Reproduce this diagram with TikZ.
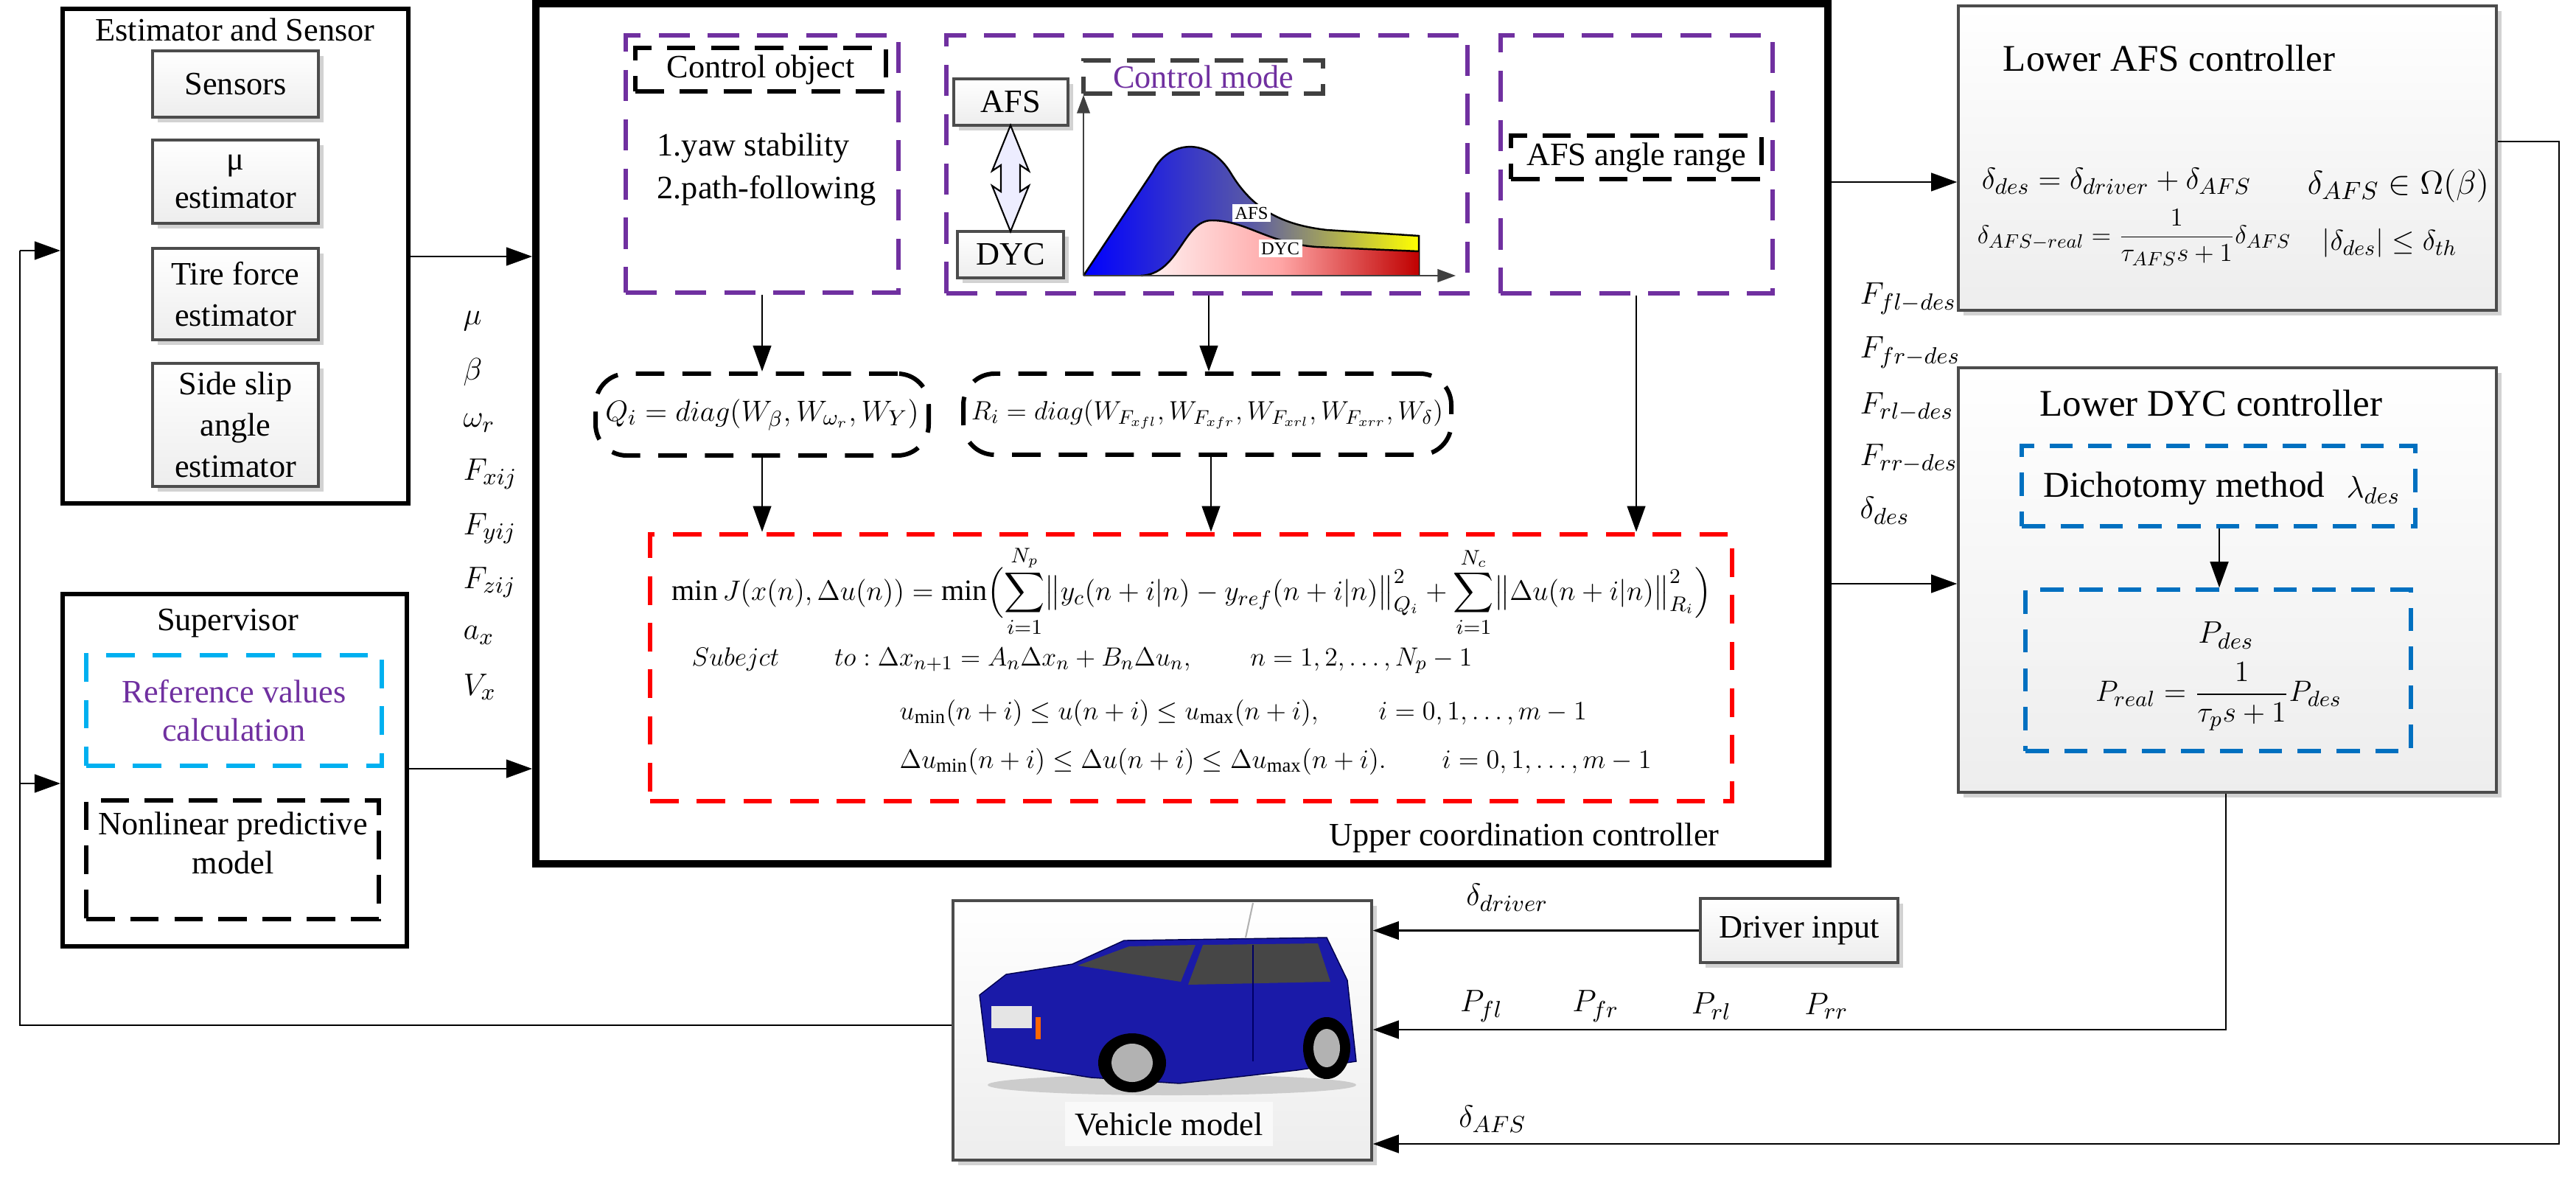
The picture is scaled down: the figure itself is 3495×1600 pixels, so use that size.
\documentclass[tikz,border=0pt]{standalone}
\usepackage{fontspec}
\usepackage{amsmath,graphicx}
\setmainfont{Liberation Serif}
\usetikzlibrary{fit,arrows.meta,shadows,calc}
\definecolor{pur}{HTML}{7030A0}
\definecolor{cyn}{HTML}{00B0F0}
\definecolor{bl}{HTML}{0070C0}
\definecolor{carblue}{HTML}{1A1AA8}
\begin{document}
\begin{tikzpicture}[x=0.01cm,y=-0.01cm,
  font=\fontsize{12.6}{15}\selectfont,
  every node/.style={inner sep=0pt},
  frame/.style={draw,line width=1.7pt,fit={#1},inner sep=0pt},
  gbox/.style={draw=gray!60!black,line width=1pt,top color=white,bottom color=gray!14,
     drop shadow={shadow xshift=2pt,shadow yshift=-2pt,fill=gray!35,opacity=1},fit={#1},inner sep=0pt},
  pbox/.style={draw=pur,line width=1.7pt,dash pattern=on 12pt off 7pt,fit={#1},inner sep=0pt},
  kbox/.style={draw=black,line width=1.7pt,dash pattern=on 11pt off 6pt,fit={#1},inner sep=0pt},
  rbox/.style={draw,line width=1.7pt,dash pattern=on 11pt off 7pt,rounded corners=12pt,fit={#1},inner sep=0pt},
  arr/.style={line width=0.8pt,-{Triangle[length=10pt,width=7pt]}},
  ln/.style={line width=0.8pt},
  lbl/.style={anchor=west}]
\useasboundingbox (0,0) rectangle (3495,1600);
\fill[white] (0,0) rectangle (3495,1600);
\coordinate (xa) at (1640,0);
\coordinate (xb) at (1643,0);
\coordinate (xc) at (2220,0);
\coordinate (xd) at (3011,0);
\coordinate (xe) at (3020,0);
\coordinate (ya) at (0,247);
\coordinate (yb) at (0,792);
\coordinate (yc) at (0,348);
\coordinate (yd) at (0,1043);

% ---------- Estimator and sensor
\node[frame={(85,12)(554,683)}] (est) {};
\node (estt) at (319,40) {Estimator and Sensor};
\node[gbox={(207,69)(432,159)}] (sens) {};
\node at (sens.center) {Sensors};
\node[gbox={(207,190)(432,303)}] (mu) {};
\node[align=center] at (mu.center) {μ\\estimator};
\node[gbox={(207,337)(432,461)}] (tire) {};
\node[align=center,font=\fontsize{12.6}{16}\selectfont] at (tire.center) {Tire force\\estimator};
\node[gbox={(207,493)(432,660)}] (side) {};
\node[align=center,font=\fontsize{12.6}{16}\selectfont] at (side.center) {Side slip\\angle\\estimator};

% ---------- Supervisor
\node[frame={(85,806)(552,1284)}] (sup) {};
\node (supt) at (309,846) {Supervisor};
\node[draw=cyn,line width=1.7pt,dash pattern=on 11pt off 7pt,fit={(117,889)(518,1039)}] (ref) {};
\node[align=center,text=pur] at (ref.center) {Reference values\\calculation};
\node[kbox={(117,1086)(514,1247)}] (nl) {};
\node[align=center] at (316,1144) {Nonlinear predictive\\model};

% ---------- Upper coordination controller
\node[draw,line width=2.8pt,fit={(727,5)(2480,1172)}] (up) {};
\node (upt) at (2068,1137) {Upper coordination controller};

% control object
\node[pbox={(849,48)(1219,397)}] (co) {};
\node[kbox={(862,65)(1202,124)}] (col) {};
\node at (col.center) {Control object};
\node[align=left,anchor=north west,font=\fontsize{12.6}{16.5}\selectfont] at (891,180) {1.yaw stability\\2.path-following};

% control mode
\node[pbox={(1284,48)(1991,398)}] (cm) {};
\node[gbox={(1294,107)(1449,170)}] (afs) {};
\node at (afs.center) {AFS};
\node[gbox={(1299,314)(1443,377)}] (dyc) {};
\node at (dyc.center) {DYC};
\draw[line width=0.6pt,fill=blue!7] (1371,170)--(1396,232)--(1384,224)--(1384,260)--(1396,252)--(1371,314)--(1346,252)--(1358,260)--(1358,224)--(1346,232)--cycle;
\node[draw=black!75,line width=1.7pt,dash pattern=on 11pt off 6pt,fit={(1470,82)(1795,127)}] (cml) {};
\node[text=pur] at (cml.center) {Control mode};
\shade[left color=blue,right color=yellow,middle color=gray!70!blue]
  (1470,374) -- (1564,233) .. controls (1585,190) and (1640,185) .. (1670,235)
  .. controls (1700,285) and (1740,305) .. (1800,312) -- (1925,320) -- (1925,374) -- cycle;
\draw[line width=0.7pt]
  (1470,374) -- (1564,233) .. controls (1585,190) and (1640,185) .. (1670,235)
  .. controls (1700,285) and (1740,305) .. (1800,312) -- (1925,320) -- (1925,374);
\shade[left color=red!4,right color=red!75!black,middle color=red!35]
  (1548,374) .. controls (1600,372) and (1605,299) .. (1644,299)
  .. controls (1690,299) and (1720,330) .. (1786,335) -- (1925,341) -- (1925,374) -- cycle;
\draw[line width=0.7pt] (1548,374) .. controls (1600,372) and (1605,299) .. (1644,299)
  .. controls (1690,299) and (1720,330) .. (1786,335) -- (1925,341);
\coordinate (o) at (1470,374);
\coordinate (ytop) at (1470,129);
\coordinate (xend) at (1975,374);
\draw[black!75,line width=0.6pt,-{Triangle[length=7pt,width=5pt]}] (o) -- (ytop);
\draw[black!75,line width=0.6pt,-{Triangle[length=7pt,width=5pt]}] (o) -- (xend);
\node[fill=white,inner sep=1pt,font=\fontsize{7}{8}\selectfont] at (1698,289) {AFS};
\node[fill=white,inner sep=1pt,font=\fontsize{7}{8}\selectfont] at (1737,337) {DYC};

% AFS angle range
\node[pbox={(2036,48)(2405,398)}] (aar) {};
\node[kbox={(2050,184)(2390,243)}] (aarl) {};
\node at (aarl.center) {AFS angle range};

% Q and R
\node[rbox={(808,507)(1260,618)}] (q) {};
\node at (q.center) {\resizebox{121pt}{!}{$Q_i = diag(W_\beta, W_{\omega_r}, W_Y)$}};
\node[rbox={(1307,507)(1969,617)}] (r) {};
\node at (r.center) {\resizebox{182pt}{!}{$R_i = diag(W_{F_{xfl}}, W_{F_{xfr}}, W_{F_{xrl}}, W_{F_{xrr}}, W_\delta)$}};

% MPC box
\node[draw=red,line width=1.9pt,dash pattern=on 11pt off 7pt,fit={(882,725)(2350,1087)}] (mpc) {};
\node[anchor=west] at (911,802) {\resizebox{401pt}{!}{$\displaystyle \min J(x(n),\Delta u(n)) = \min\Bigl(\sum_{i=1}^{N_p}\bigl\|y_c(n+i|n)-y_{ref}(n+i|n)\bigr\|_{Q_i}^2 + \sum_{i=1}^{N_c}\bigl\|\Delta u(n+i|n)\bigr\|_{R_i}^2\Bigr)$}};
\node[anchor=west] at (938,896) {\resizebox{301pt}{!}{$Subejct\qquad to:\Delta x_{n+1}=A_n\Delta x_n+B_n\Delta u_n,\qquad n=1,2,\ldots,N_p-1$}};
\node[anchor=west] at (1220,967) {\resizebox{265pt}{!}{$u_{\min}(n+i)\le u(n+i)\le u_{\max}(n+i),\qquad i=0,1,\ldots,m-1$}};
\node[anchor=west] at (1220,1033) {\resizebox{290pt}{!}{$\Delta u_{\min}(n+i)\le \Delta u(n+i)\le \Delta u_{\max}(n+i).\qquad i=0,1,\ldots,m-1$}};

\draw[arr] (co.south) -- (q.north);
\draw[arr] (q.south) -- (q.south |- mpc.north);
\draw[arr] (cm.south -| xa) -- (r.north -| xa);
\draw[arr] (r.south -| xb) -- (mpc.north -| xb);
\draw[arr] (aar.south -| xc) -- (mpc.north -| xc);

% signal labels left
\node[lbl] at (628,436) {$\mu$};
\node[lbl] at (628,505) {$\beta$};
\node[lbl] at (628,574) {$\omega_r$};
\node[lbl] at (628,643) {$F_{xij}$};
\node[lbl] at (628,717) {$F_{yij}$};
\node[lbl] at (628,790) {$F_{zij}$};
\node[lbl] at (628,862) {$a_x$};
\node[lbl] at (628,932) {$V_x$};

% signal labels right
\node[lbl] at (2523,405) {$F_{fl-des}$};
\node[lbl] at (2523,478) {$F_{fr-des}$};
\node[lbl] at (2523,552) {$F_{rl-des}$};
\node[lbl] at (2523,622) {$F_{rr-des}$};
\node[lbl] at (2523,693) {$\delta_{des}$};

% ---------- Lower AFS
\node[gbox={(2657,8)(3387,421)}] (lafs) {};
\node[font=\fontsize{14.5}{16}\selectfont] at (2943,79) {Lower AFS controller};
\node[anchor=west] at (2688,246) {\resizebox{104pt}{!}{$\delta_{des}=\delta_{driver}+\delta_{AFS}$}};
\node[anchor=west] at (3130,252) {\resizebox{70pt}{!}{$\delta_{AFS}\in\Omega(\beta)$}};
\node[anchor=west] at (2682,322) {\resizebox{121pt}{!}{$\delta_{AFS-real}=\dfrac{1}{\tau_{AFS}s+1}\delta_{AFS}$}};
\node[anchor=west] at (3150,330) {\resizebox{52pt}{!}{$|\delta_{des}|\le\delta_{th}$}};

% ---------- Lower DYC
\node[gbox={(2657,499)(3387,1075)}] (ldyc) {};
\node[font=\fontsize{14.5}{16}\selectfont] at (3000,547) {Lower DYC controller};
\node[draw=bl,line width=1.5pt,dash pattern=on 9pt off 6pt,fit={(2743,605)(3277,714)}] (dich) {};
\node[anchor=west,font=\fontsize{14}{16}\selectfont] at (2772,663) {Dichotomy method};
\node at (3220,665) {$\lambda_{des}$};
\node[draw=bl,line width=1.5pt,dash pattern=on 9pt off 6pt,fit={(2748,800)(3271,1019)}] (pb) {};
\node at (3020,862) {$P_{des}$};
\node at (3010,945) {\resizebox{95pt}{!}{$P_{real}=\dfrac{1}{\tau_p s+1}P_{des}$}};
\draw[arr] (dich.south -| xd) -- (pb.north -| xd);

% ---------- Upper -> lower
\draw[arr] (up.east |- ya) -- (lafs.west |- ya);
\draw[arr] (up.east |- yb) -- (ldyc.west |- yb);
\draw[arr] (est.east |- yc) -- (up.west |- yc);
\draw[arr] (sup.east |- yd) -- (up.west |- yd);

% ---------- Vehicle
\node[gbox={(1293,1222)(1861,1574)}] (veh) {};
\fill[gray!40] (1590,1472) ellipse (250 and 14);
\fill[carblue,draw=blue!30!black,line width=0.4pt] (1329,1350) -- (1365,1322) -- (1455,1308) -- (1525,1276) -- (1800,1272)
  -- (1828,1330) -- (1840,1440) -- (1760,1452) -- (1600,1470) -- (1480,1462) -- (1340,1440) -- cycle;
\fill[gray!55!black] (1462,1310) -- (1532,1284) -- (1622,1282) -- (1602,1332) -- cycle;
\fill[gray!55!black] (1632,1282) -- (1788,1280) -- (1805,1332) -- (1612,1336) -- cycle;
\draw[blue!40!black,line width=0.5pt] (1700,1282) -- (1700,1440);
\fill[orange!80!red] (1405,1380) rectangle (1412,1410);
\fill[gray!20] (1345,1365) rectangle (1400,1395);
\fill[black] (1536,1442) ellipse (46 and 40);
\fill[gray!60] (1536,1442) ellipse (28 and 26);
\fill[black] (1800,1422) ellipse (32 and 42);
\fill[gray!60] (1800,1422) ellipse (18 and 26);
\draw[gray!60,line width=0.6pt] (1690,1272) -- (1700,1225);
\node[fill=gray!5,inner sep=4pt] at (1586,1525) {Vehicle model};

\node[gbox={(2307,1219)(2575,1306)}] (drv) {};
\node at (drv.center) {Driver input};
\draw[arr] (drv.west) -- (veh.east |- drv.west);
\node at (2045,1218) {$\delta_{driver}$};

\coordinate (dycout) at (3020,1397);
\draw[arr] (ldyc.south -| xe) -- (dycout) -- (veh.east |- dycout);
\node at (2010,1365) {$P_{fl}$};
\node at (2165,1365) {$P_{fr}$};
\node at (2322,1365) {$P_{rl}$};
\node at (2478,1365) {$P_{rr}$};

\coordinate (afsc1) at (3472,192);
\coordinate (afsc2) at (3472,1552);
\draw[arr] (lafs.east |- afsc1) -- (afsc1) -- (afsc2) -- (veh.east |- afsc2);
\node at (2025,1518) {$\delta_{AFS}$};

% feedback
\coordinate (fb1) at (27,1391);
\coordinate (fb2) at (27,340);
\coordinate (fb3) at (27,1063);
\draw[ln] (veh.west |- fb1) -- (fb1) -- (fb2);
\draw[arr] (fb2) -- (est.west |- fb2);
\draw[arr] (fb3) -- (sup.west |- fb3);
\end{tikzpicture}
\end{document}
